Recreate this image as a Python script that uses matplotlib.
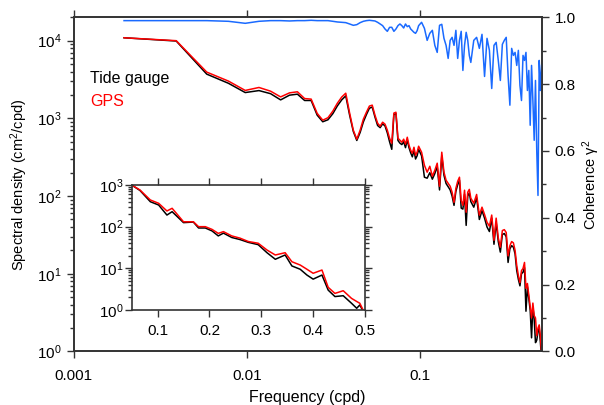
import numpy as np
import matplotlib
matplotlib.use('Agg')
import matplotlib.pyplot as plt
from matplotlib.ticker import NullLocator, FixedLocator, MultipleLocator, LogLocator, FormatStrFormatter

plt.rcParams.update({
    'font.family': ['Liberation Sans', 'DejaVu Sans'],
    'font.size': 11,
    'mathtext.fontset': 'custom',
    'mathtext.rm': 'Liberation Sans',
    'mathtext.it': 'Liberation Sans:italic',
    'mathtext.bf': 'Liberation Sans:bold',
})

# frequency bins (index on the 1/512 cpd grid)
k = list(range(1, 51)) + list(range(52, 101, 2)) + list(range(104, 257, 4))

gps = [10900, 10000, 3940, 3020, 2290, 2500, 2240, 1890, 2130, 2200,
       1800, 1770, 1160, 948, 1020, 1240, 1570, 1880, 2110, 1170,
       705, 540, 705, 977, 1200, 1440, 1480, 1100, 867, 793,
       893, 842, 705, 556, 479, 1170, 1200, 556, 524, 494,
       540, 465, 572, 451, 389, 356, 425, 335, 367, 438,
       367, 249, 203, 242, 180, 215, 265, 134, 367, 203, 160, 146, 134,
       112, 83, 126, 155, 175, 88, 76, 119, 62, 112, 122, 94,
       81, 105, 57, 72, 58, 46, 41, 57, 27, 52, 29, 22, 36, 37, 34,
       17, 23, 26, 25, 20, 12.8, 9.5, 7.7, 11, 11.7, 14, 6.5, 7.5, 5.3,
       3.8, 2.7, 4.2, 2.9, 2.7, 1.6, 2.0, 2.2, 1.56, 0.9]

tide = [10900, 9900, 3710, 2830, 2150, 2280, 2080, 1730, 1990, 2050,
        1700, 1700, 1100, 905, 960, 1150, 1450, 1730, 1950, 1100,
        680, 520, 660, 900, 1120, 1350, 1400, 1040, 810, 760,
        850, 800, 650, 500, 400, 1120, 1150, 520, 480, 460,
        500, 420, 530, 420, 360, 320, 390, 300, 330, 400,
        330, 175, 170, 200, 165, 195, 240, 120, 330, 185, 145, 132, 120,
        100, 76, 115, 140, 160, 70, 68, 105, 42, 100, 110, 85,
        72, 95, 50, 65, 52, 40, 35, 52, 24, 46, 26, 19, 32, 33, 30,
        14, 21, 23, 22, 18, 11, 8.5, 7, 10, 10.5, 12, 3.3, 6.8, 4.8,
        3.4, 1.5, 3.8, 2.6, 1.3, 1.4, 1.8, 2.0, 1.3, 0.8]

coh = [0.99, 0.99, 0.99, 0.988, 0.982, 0.988, 0.99, 0.99, 0.989, 0.99,
       0.99, 0.991, 0.99, 0.99, 0.99, 0.988, 0.986, 0.985, 0.984, 0.98,
       0.976, 0.978, 0.984, 0.988, 0.99, 0.991, 0.99, 0.989, 0.985, 0.98,
       0.975, 0.965, 0.958, 0.97, 0.97, 0.958, 0.965, 0.975, 0.98, 0.975,
       0.968, 0.98, 0.972, 0.975, 0.965, 0.96, 0.955, 0.952, 0.96, 0.975,
       0.985, 0.967, 0.931, 0.952, 0.961, 0.916, 0.895, 0.976, 0.979, 0.937,
       0.916, 0.877, 0.931, 0.94, 0.916, 0.961, 0.877, 0.931, 0.958, 0.841,
       0.916, 0.955, 0.931, 0.886, 0.865,
       0.931, 0.94, 0.907, 0.949, 0.823, 0.937, 0.901, 0.787, 0.916, 0.925,
       0.871, 0.811, 0.919, 0.931, 0.94, 0.826, 0.737, 0.907, 0.886, 0.895,
       0.856, 0.901, 0.796, 0.751, 0.886, 0.871, 0.895, 0.781, 0.841, 0.677,
       0.856, 0.751, 0.632, 0.811, 0.602, 0.467, 0.871, 0.781, 0.856]

# inset (smoothed spectra, linear frequency)
inset_freq = [0.050, 0.066, 0.086, 0.102, 0.118, 0.128, 0.150, 0.169, 0.179, 0.192,
              0.205, 0.217, 0.227, 0.243, 0.259, 0.275, 0.294, 0.311, 0.327, 0.346,
              0.359, 0.375, 0.388, 0.400, 0.417, 0.429, 0.442, 0.458, 0.474, 0.484,
              0.490, 0.497]
inset_gps = [1000, 759, 437, 364, 238, 276, 131, 131, 100, 100,
             86, 69, 76, 60, 53, 44, 40, 27.5, 20.9, 23.7,
             14.4, 12.0, 9.5, 7.6, 9.1, 3.5, 2.5, 2.9, 1.9, 1.6,
             1.45, 0.96]
inset_tide = [1000, 740, 397, 331, 190, 229, 125, 129, 93, 93,
              79, 60, 70, 55, 49, 42, 37, 23.7, 16.5, 20.9,
              11.4, 9.5, 6.9, 5.5, 6.9, 3.0, 2.1, 2.2, 1.45, 1.1,
              1.32, 0.9]

freq = np.array(k) / 512.0
blue = '#1a6aff'
spine_c = '#333333'

fig = plt.figure(figsize=(6.04, 4.05), dpi=100)
ax = fig.add_axes([0.1219, 0.1321, 0.7748, 0.8252])
ax.plot(freq, tide, color='black', lw=1.1)
ax.plot(freq, gps, color='red', lw=1.1)
ax.set_xscale('log')
ax.set_yscale('log')
ax.set_xlim(0.001, 0.5)
ax.set_ylim(1, 2e4)
ax.xaxis.set_major_locator(FixedLocator([0.001, 0.01, 0.1]))
ax.set_xticklabels(['0.001', '0.01', '0.1'])
ax.xaxis.set_minor_locator(NullLocator())
ax.set_xlabel('Frequency (cpd)', fontsize=11.5, labelpad=5)
ax.set_ylabel('Spectral density (cm$^2$/cpd)', fontsize=10.5, labelpad=5)
ax.tick_params(which='both', direction='out', top=True, right=False, color=spine_c, width=1)
ax.tick_params(which='major', length=5, labelsize=11)
ax.tick_params(axis='x', which='major', pad=7.5)
ax.tick_params(which='minor', length=3)
for s in ax.spines.values():
    s.set_color(spine_c)
    s.set_linewidth(1.2)

ax.text(0.035, 0.818, 'Tide gauge', transform=ax.transAxes, color='black',
        fontsize=11.5, va='center')
ax.text(0.035, 0.747, 'GPS', transform=ax.transAxes, color='red',
        fontsize=11.5, va='center')

ax2 = ax.twinx()
ax2.plot(freq, coh, color=blue, lw=1.1)
ax2.set_ylim(0, 1)
ax2.yaxis.set_major_locator(MultipleLocator(0.2))
ax2.yaxis.set_minor_locator(MultipleLocator(0.1))
ax2.yaxis.set_major_formatter(FormatStrFormatter('%.1f'))
ax2.set_ylabel('Coherence γ$^2$', fontsize=10.5, labelpad=3)
ax2.tick_params(which='both', direction='out', color=spine_c, width=1)
ax2.tick_params(which='major', length=5, labelsize=11, pad=4.5)
ax2.tick_params(which='minor', length=3)
for s in ax2.spines.values():
    s.set_color(spine_c)
    s.set_linewidth(1.2)

axi = fig.add_axes([0.2180, 0.2346, 0.3863, 0.3086])
axi.plot(inset_freq, inset_tide, color='black', lw=1.1)
axi.plot(inset_freq, inset_gps, color='red', lw=1.1)
axi.set_yscale('log')
axi.set_xlim(0.05, 0.5)
axi.set_ylim(1, 1000)
axi.xaxis.set_major_locator(FixedLocator([0.1, 0.2, 0.3, 0.4, 0.5]))
axi.xaxis.set_minor_locator(NullLocator())
axi.yaxis.set_major_locator(LogLocator(base=10))
axi.tick_params(which='both', direction='out', top=True, right=True, color=spine_c, width=1)
axi.tick_params(which='major', length=5, labelsize=11)
axi.tick_params(axis='x', which='major', pad=5)
axi.tick_params(axis='y', which='major', pad=1)
axi.tick_params(which='minor', length=3)
for s in axi.spines.values():
    s.set_color(spine_c)
    s.set_linewidth(1.2)

fig.savefig('out.png', dpi=100)
